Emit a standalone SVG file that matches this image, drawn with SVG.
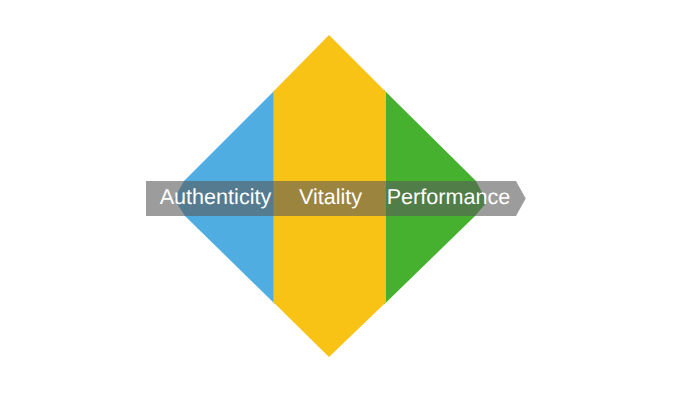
<svg xmlns="http://www.w3.org/2000/svg" width="700" height="400" viewBox="0 0 700 400">
<style>
text{font-family:"Liberation Sans",Arial,sans-serif;font-size:21.6px;fill:#fff;text-anchor:middle;text-rendering:geometricPrecision}
</style>
<rect width="700" height="400" fill="#fff"/>
<g id="diamond-left"><polygon points="275,90 184,181 174,199 185,216 275,304" fill="#4fade2"/></g>
<g id="diamond-right"><polygon points="384,90 476,181 487,202 475,216 384,304.5" fill="#45b12e"/></g>
<g id="diamond-center"><polygon points="329,35 386,92 386,302.3 329,357 273.4,302.3 273.4,91.6" fill="#f9c316"/></g>
<g id="band"><polygon points="146,181 516,181 525.7,198.5 516,216 146,216" fill="#5a5a5a" fill-opacity="0.6"/></g>
<g id="authenticity"><text x="215.5" y="204">Authenticity</text></g>
<g id="vitality"><text x="330.5" y="204">Vitality</text></g>
<g id="performance"><text x="448.5" y="204">Performance</text></g>
</svg>
